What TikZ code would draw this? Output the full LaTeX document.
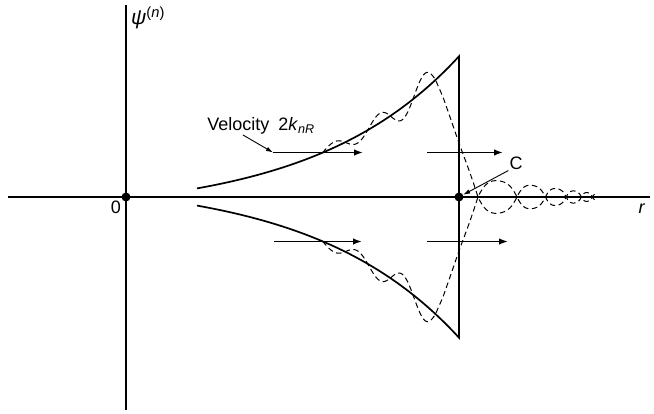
\documentclass[tikz,border=0pt]{standalone}
\usepackage{fontspec}
\setmainfont{Liberation Sans}
\usetikzlibrary{arrows.meta,positioning,calc}
\tikzset{
    axis/.style={line width=1.4pt},
    envelope/.style={line width=1.7pt, line join=miter},
    wave/.style={line width=1pt, dash pattern=on 5.5pt off 3.5pt},
    flow/.style={-{Latex[length=9pt,width=6.5pt]}, line width=1.5pt},
    pointer/.style={-{Latex[length=7pt,width=4.5pt]}, line width=0.9pt},
    dot/.style={circle, fill=black, inner sep=0pt, minimum size=9pt},
    tag/.style={inner sep=1pt, font=\fontsize{18}{21}\selectfont},
    declare function={
        env(\x)=15.9*exp(0.0069*\x)-17.35;
        amp(\x)=5.5*exp(0.0115*(\x-206));
        wig(\x)=env(\x)+amp(\x)*sin((\x-196.5)*7.9646);
        tailx(\x)=352+144.4*(1-exp(-0.3147*\x));
        taily(\x)=-19*exp(-0.33*\x)*sin(180*\x)*(1.6-0.6*abs(sin(180*\x)));
    }
}

\begin{document}
\begin{tikzpicture}[x=1pt, y=1pt]
\useasboundingbox (-126,-217) rectangle (528,197);

%% axes, origin O at the crossing
\coordinate (ybot)   at (0,-213);
\coordinate (ytop)   at (0,192);
\coordinate (xleft)  at (-118,0);
\coordinate (xright) at (524,0);
\draw[axis] (ybot) -- (ytop);
\draw[axis] (xleft) -- (xright);

%% envelope, front at r = 333
\draw[envelope] plot[domain=71:333, samples=90] (\x,{env(\x)})
    -- plot[domain=333:71, samples=90] (\x,{-env(\x)});

%% wave (dashed), upper half and its mirror
\foreach \s in {1,-1}{
  \begin{scope}[yscale=\s]
    \draw[wave] plot[domain=196.5:309.5, samples=150] (\x,{wig(\x)})
        -- plot[smooth] coordinates {(317,100) (324,80) (333,54) (344,24) (352,0)}
        -- plot[domain=0:5.3, samples=220] ({tailx(\x)},{taily(\x)});
  \end{scope}
}

%% points O and C
\node[dot] (odot) at (0,0) {};
\node[dot] (cdot) at (333,0) {};

%% velocity arrows
\coordinate (ua1) at (147,44.5);  \coordinate (ub1) at (237,44.5);
\coordinate (ua2) at (301,44.5);  \coordinate (ub2) at (377,44.5);
\coordinate (la1) at (148,-44.5); \coordinate (lb1) at (236,-44.5);
\coordinate (la2) at (301,-44.5); \coordinate (lb2) at (382,-44.5);
\draw[flow] (ua1) -- (ub1);
\draw[flow] (ua2) -- (ub2);
\draw[flow] (la1) -- (lb1);
\draw[flow] (la2) -- (lb2);

%% labels
\node[tag] (zero) at (-10,-10) {0};
\node[tag, anchor=west, font=\fontsize{21}{24}\selectfont] (psi) at (4,179)
    {\textit{ψ}\textsuperscript{(\textit{n})}};
\node[tag] (rlab) at (516,-12) {\textit{r}};
\node[tag] (velo) at (135,71)
    {Velocity\hspace{0.5em}2\textit{k}\textsubscript{\textit{nR}}};
\node[tag] (clab) at (390,34) {C};

%% pointers
\coordinate (vtail) at (117,62);
\draw[pointer] (vtail) -- (ua1);
\draw[pointer] (clab.south west) -- (cdot);

\end{tikzpicture}
\end{document}
